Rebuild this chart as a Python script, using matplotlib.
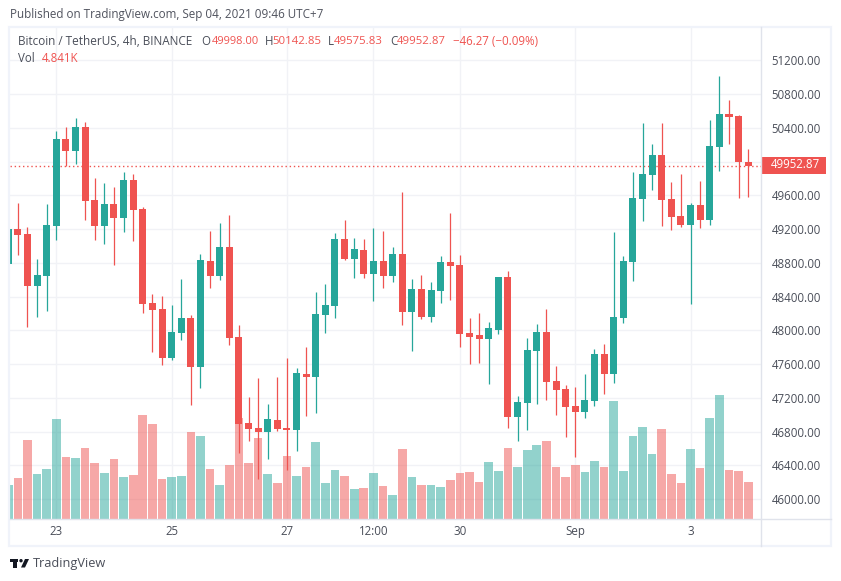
import matplotlib
matplotlib.use("Agg")
import matplotlib.pyplot as plt
import numpy as np
from matplotlib.patches import Rectangle, Circle, Polygon

TEAL = "#26a69a"
RED = "#ef5350"
GRID = "#f1f2f6"
AXIS_LINE = "#e0e3eb"
TEXT = "#4a4e59"

plt.rcParams["font.family"] = ["Open Sans", "DejaVu Sans"]

# 4h candles, first one is cut off by the left edge
opens = [48785, 49196, 49141, 48524, 48643, 49236, 50267, 50125, 50409, 49544,
         49236, 49496, 49330, 49781, 49437, 48323, 48252, 47671, 47967, 48145,
         47564, 48820, 48643, 48987, 47920, 46901, 46841, 46794, 46936, 46841,
         46817, 47481, 47445, 48180, 48287, 49081, 48844, 48951, 48666, 48820,
         48643, 48903, 48216, 48488, 48157, 48465, 48809, 48773, 47967, 47943,
         47896, 48003, 48631, 46971, 47137, 47754, 47979, 47398, 47303, 47102,
         47031, 47161, 47718, 47481, 48145, 48808, 49555, 49840, 50077, 49555,
         49354, 49247, 49484, 49307, 50172, 50563, 50539, 49998]
closes = [49196, 49129, 48524, 48655, 49247, 50267, 50125, 50409, 49532, 49236,
          49496, 49330, 49781, 49425, 48311, 48240, 47671, 47979, 48145, 47564,
          48832, 48643, 48987, 47908, 46888, 46830, 46794, 46948, 46829, 46817,
          47493, 47445, 48192, 48299, 49081, 48844, 48963, 48666, 48820, 48643,
          48903, 48216, 48488, 48157, 48477, 48809, 48761, 47955, 47920, 47896,
          48026, 48631, 46971, 47149, 47766, 47979, 47386, 47291, 47090, 47031,
          47173, 47718, 47481, 48157, 48820, 49567, 49852, 50077, 49544, 49342,
          49247, 49484, 49307, 50184, 50563, 50527, 49998, 49952.87]
highs = [49196, 49504, 49224, 48844, 49496, 50362, 50409, 50516, 50468, 49805,
         49745, 49698, 49876, 49852, 49461, 48430, 48406, 48299, 48607, 48180,
         48903, 49176, 49271, 49366, 48062, 47209, 47434, 47125, 47445, 47671,
         47552, 47801, 48453, 48548, 49152, 49306, 49093, 49081, 49212, 49176,
         48986, 49638, 48607, 48654, 48571, 48880, 49389, 48891, 48145, 48204,
         48097, 48631, 48702, 47220, 47908, 48074, 48252, 47576, 47350, 47327,
         47481, 47778, 47837, 49164, 48880, 49875, 50456, 50207, 50456, 49757,
         49852, 49508, 49769, 50492, 51013, 50729, 50551, 50142.85]
lows = [48785, 48892, 48038, 48157, 48228, 49070, 49947, 49971, 49307, 49070,
        49022, 48773, 49164, 49058, 48204, 47742, 47588, 47647, 47884, 47114,
        47315, 48501, 48595, 47825, 46545, 46687, 46237, 46473, 46805, 46343,
        46568, 46983, 47019, 47967, 48145, 48832, 48619, 48619, 48346, 48500,
        48571, 48062, 47754, 48133, 48097, 48323, 48358, 47801, 47600, 47611,
        47362, 47955, 46841, 46687, 46817, 47125, 47173, 46995, 46735, 46497,
        46960, 47102, 47244, 47374, 48086, 48584, 49295, 49662, 49236, 49188,
        49224, 48311, 49212, 49247, 49887, 50207, 49567, 49575.83]
# thousands
volumes = [4.44, 5.38, 10.44, 5.91, 6.58, 13.24, 8.18, 8.04, 9.38, 7.38,
           6.04, 7.91, 5.51, 5.78, 13.78, 12.58, 5.24, 5.51, 5.64, 11.51,
           10.98, 6.58, 4.44, 7.11, 13.38, 7.38, 10.71, 5.91, 4.71, 8.31,
           5.64, 6.84, 10.18, 4.71, 6.44, 5.64, 3.91, 4.04, 6.04, 4.31,
           3.11, 9.24, 5.51, 4.44, 4.44, 4.18, 5.11, 6.04, 6.18, 4.84,
           7.51, 6.31, 9.38, 6.84, 9.11, 9.78, 10.31, 6.84, 5.51, 7.11,
           6.18, 7.64, 6.84, 15.64, 6.31, 10.98, 12.18, 8.58, 11.91, 5.91,
           4.71, 9.24, 6.71, 13.38, 16.44, 6.44, 6.31, 4.841]

price_ticks = np.arange(46000, 51201, 400)
time_ticks = [5, 17, 29, 38, 47, 59, 71]
time_labels = ["23", "25", "27", "12:00", "30", "Sep", "3"]

last_price = closes[-1]
price_per_k = 88.9  # volume bars share the price axis
y_min, y_max = 45771, 51594

fig = plt.figure(figsize=(8.41, 5.81), dpi=100, facecolor="white")


def px_rect(left, top, right, bottom):
    return [left / 841, 1 - bottom / 581, (right - left) / 841, (bottom - top) / 581]


ax = fig.add_axes(px_rect(10, 27, 761, 518.5))
x = np.arange(len(opens))
o, c, h, l = map(np.array, (opens, closes, highs, lows))
v = np.array(volumes)
is_up = c >= o
colors = np.where(is_up, TEAL, RED)

ax.bar(x, v * price_per_k, bottom=y_min, width=0.9, color=colors, alpha=0.5, zorder=1, linewidth=0)
ax.axhline(last_price, color=RED, lw=1, ls=(0, (1, 2)), zorder=1.5)
ax.vlines(x, l, h, color=colors, lw=0.9, zorder=2)
ax.bar(x, np.abs(c - o), bottom=np.minimum(o, c), width=0.73, color=colors, zorder=3, linewidth=0)

ax.set_xlim(0.182, 78.33)
ax.set_ylim(y_min, y_max)
ax.set_yticks(price_ticks)
ax.set_yticklabels([f"{p:.2f}" for p in price_ticks])
ax.set_xticks(time_ticks)
ax.set_xticklabels(time_labels)
ax.get_xticklabels()[5].set_color("#131722")
ax.yaxis.tick_right()
ax.tick_params(axis="both", length=0, labelsize=8.3, labelcolor=TEXT)
ax.tick_params(axis="y", pad=7.7)
ax.tick_params(axis="x", pad=5)
ax.grid(True, color=GRID, lw=1)
ax.set_axisbelow(True)
for side in ("top", "left", "bottom", "right"):
    ax.spines[side].set_visible(False)

# frame, axis lines, header and logo go on a pixel overlay
ov = fig.add_axes([0, 0, 1, 1], facecolor="none")
ov.set_xlim(0, 841)
ov.set_ylim(581, 0)
ov.axis("off")
ov.add_patch(Rectangle((9.5, 26.5), 821.5, 519.5, fill=False, ec="#f0f3fa", lw=1.6))
ov.plot([10, 831], [518.5, 518.5], color=AXIS_LINE, lw=1)
ov.plot([761.5, 761.5], [27, 546], color=AXIS_LINE, lw=1)

ov.add_patch(Rectangle((761, 156.7), 65, 17, color=RED, lw=0))
ov.text(771, 165, f"{last_price:.2f}", color="white", fontsize=8.3, va="center", ha="left")

ov.text(10, 14.5, "Published on TradingView.com, Sep 04, 2021 09:46 UTC+7", fontsize=8.4, color="#50535e", va="center")

legend_parts = [
    (18, "Bitcoin / TetherUS, 4h, BINANCE", 8.5, TEXT),
    (201, "O", 8.3, TEXT), (212, "49998.00", 8.0, RED),
    (265, "H", 8.3, TEXT), (272.7, "50142.85", 8.2, RED),
    (328, "L", 8.3, TEXT), (334, "49575.83", 8.2, RED),
    (390, "C", 8.3, TEXT), (397, "49952.87", 8.2, RED),
    (453, "\u221246.27 (\u22120.09%)", 8.3, RED),
]
for px, s, size, col in legend_parts:
    ov.text(px, 41.5, s, fontsize=size, color=col, va="center")
ov.text(18, 59, "Vol", fontsize=8.3, color=TEXT, va="center")
ov.text(42, 59, "4.841K", fontsize=8.3, color=RED, va="center")

# logo
ov.add_patch(Rectangle((10, 559), 8, 3, color="#131722", lw=0))
ov.add_patch(Rectangle((13, 559), 4, 8.5, color="#131722", lw=0))
ov.add_patch(Circle((21, 560.7), 1.7, color="#131722", lw=0))
ov.add_patch(Polygon([[25, 559], [29, 559], [25, 567.5], [21, 567.5]], color="#131722", lw=0))
ov.text(33, 563, "TradingView", fontsize=9.2, color=TEXT, va="center")

fig.savefig("out.png", dpi=100)
